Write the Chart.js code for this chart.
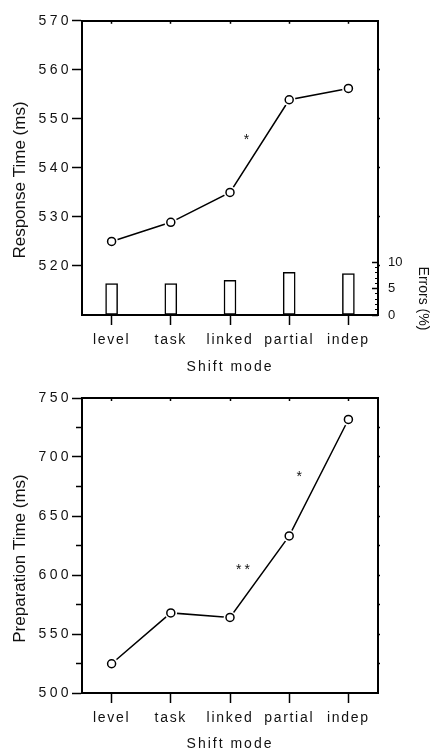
<!DOCTYPE html>
<html><head><meta charset="utf-8">
<script src="https://cdn.jsdelivr.net/npm/chart.js@4.4.1/dist/chart.umd.min.js"></script>
<style>
html,body{margin:0;padding:0;background:#fff;width:430px;height:749px;overflow:hidden}
#c1{position:absolute;left:0;top:0}
#c2{position:absolute;left:0;top:375px}
</style></head><body>
<canvas id="c1" width="430" height="375"></canvas>
<canvas id="c2" width="430" height="374"></canvas>
<script>
// ---- data ----
const categories = ['level', 'task', 'linked', 'partial', 'indep'];
const responseTime = [525.0, 528.9, 535.0, 553.9, 556.2];
const errorRate = [6.0, 6.0, 6.6, 8.1, 7.9];
const preparationTime = [524.8, 567.9, 564.0, 633.1, 731.8];

const rtTicks = [520, 530, 540, 550, 560, 570];
const rtMirrorTicks = [520, 530, 540, 550, 560];
const errTicks = [0, 5, 10];
const errMinorTicks = [0, 1, 2, 3, 4, 5, 6, 7, 8, 9, 10];
const ptTicks = [500, 550, 600, 650, 700, 750];
const ptMinorTicks = [525, 575, 625, 675, 725];
const ptMirrorTicks = [525, 550, 575, 600, 625, 650, 675, 700, 725];

const rtStars = [{x: 2.28, y: 546.3, text: '*'}];
const ptStars = [{x: 2.22, y: 607.1, text: '**'}, {x: 3.17, y: 686.0, text: '*'}];

// ---- style ----
const FONT = '"Liberation Sans", Arial, Helvetica, sans-serif';
const INK = '#111';
const tickFont = {family: FONT, size: 14};
const setTicks = arr => (s => { s.ticks = arr.map(v => ({value: v})); });

const LS = {x: '1.7px', y: '3.4px'};
const TITLE_LS = {x: '2px'};
const spacing = {
  id: 'spacing',
  beforeDraw(chart) {
    for (const s of Object.values(chart.scales)) {
      if (s.__ls) continue;
      s.__ls = true;
      const dl = s.drawLabels, dt = s.drawTitle;
      const ls = LS[s.id] || '0px', ts = TITLE_LS[s.id] || '0px';
      s.drawLabels = function (a) { const c = this.ctx; c.save(); c.letterSpacing = ls; dl.call(this, a); c.restore(); };
      s.drawTitle = function () { const c = this.ctx; c.save(); c.letterSpacing = ts; dt.call(this); c.restore(); };
    }
  }
};

function makeOverlay(titles, stars) {
  return {
    id: 'overlay',
    afterDraw(chart) {
      const c = chart.ctx;
      c.save();
      c.fillStyle = INK;
      for (const t of titles) {
        c.save();
        c.font = t.font;
        c.translate(t.x, t.y);
        c.rotate(t.rot);
        c.textAlign = 'center';
        c.textBaseline = 'middle';
        c.fillText(t.text, 0, 0);
        c.restore();
      }
      const xs = chart.scales.x, ys = chart.scales.y;
      c.font = '14px ' + FONT;
      c.letterSpacing = '3px';
      c.textAlign = 'center';
      c.textBaseline = 'alphabetic';
      for (const s of stars) {
        const m = c.measureText(s.text);
        const px = xs.getPixelForValue(s.x), py = ys.getPixelForValue(s.y);
        c.fillText(s.text, px + 1.5, py + (m.actualBoundingBoxAscent - m.actualBoundingBoxDescent) / 2);
      }
      c.restore();
    }
  };
}

function lineSets(values) {
  return [
    {type: 'line', data: values, yAxisID: 'y', showLine: false, pointRadius: 4, pointBorderWidth: 1.5,
     pointBackgroundColor: '#fff', pointBorderColor: '#000', order: 1},
    {type: 'line', data: values, yAxisID: 'y', showLine: false, pointRadius: 6.3, pointBorderWidth: 0,
     pointBackgroundColor: '#fff', pointBorderColor: '#fff', order: 2},
    {type: 'line', data: values, yAxisID: 'y', borderColor: '#000', borderWidth: 1.5, pointRadius: 0,
     tension: 0, order: 3}
  ];
}

function xScales(h, titlePad) {
  return {
    x: {type: 'category', position: 'bottom', offset: true,
        grid: {display: true, drawOnChartArea: false, drawTicks: true, tickLength: 10, tickWidth: 1.5, tickColor: '#000', offset: false},
        border: {display: true, color: '#000', width: 2},
        ticks: {font: tickFont, color: INK, padding: 7, maxRotation: 0, autoSkip: false},
        title: {display: true, text: 'Shift mode', font: {family: FONT, size: 14}, color: INK, padding: {top: 0, bottom: titlePad}},
        afterFit(s) { s.height = h; }},
    xTop: {type: 'category', position: 'top', offset: true,
        grid: {display: true, drawOnChartArea: false, drawTicks: true, tickLength: -3, tickWidth: 1.5, tickColor: '#000', offset: false},
        border: {display: true, color: '#000', width: 2},
        ticks: {display: false},
        afterFit(s) { s.height = 0; }}
  };
}

const common = {
  responsive: false, animation: false, devicePixelRatio: 1, events: [],
  plugins: {legend: {display: false}, tooltip: {enabled: false}}
};

// ---- top chart ----
new Chart(document.getElementById('c1'), {
  type: 'bar',
  data: {labels: categories, datasets: [
    ...lineSets(responseTime),
    {type: 'bar', data: errorRate, yAxisID: 'y2', backgroundColor: '#fff', borderColor: '#000',
     borderWidth: 1.5, barThickness: 12, borderSkipped: false, order: 4}
  ]},
  options: Object.assign({}, common, {
    layout: {padding: {top: 20, left: 0, right: 0, bottom: 0}, autoPadding: false},
    scales: Object.assign(xScales(60, -1), {
      y: {position: 'left', min: 510, max: 570, weight: 1, afterBuildTicks: setTicks(rtTicks),
          grid: {drawOnChartArea: false, tickLength: 10, tickWidth: 1.5, tickColor: '#000'},
          border: {display: true, color: '#000', width: 2},
          ticks: {font: tickFont, color: INK, padding: 0, callback: v => String(v)},
          afterFit(s) { s.width = 82; }},
      y2: {position: 'right', min: 0, max: 56, weight: 1, afterBuildTicks: setTicks(errMinorTicks),
          grid: {drawOnChartArea: false, tickLength: -3, tickWidth: 1, tickColor: '#000'},
          border: {display: true, color: '#000', width: 2},
          ticks: {font: {family: FONT, size: 13}, color: INK, padding: 13,
                  callback: v => errTicks.includes(v) ? String(v) : ''},
          afterFit(s) { s.width = 52; }},
      y3: {position: 'right', min: 0, max: 56, weight: 0, afterBuildTicks: setTicks(errTicks),
          grid: {drawOnChartArea: false, tickLength: -6, tickWidth: 1.5, tickColor: '#000'},
          border: {display: false}, ticks: {display: false},
          afterFit(s) { s.width = 0; }},
      y4: {position: 'right', min: 510, max: 570, weight: 0, afterBuildTicks: setTicks(rtMirrorTicks),
          grid: {drawOnChartArea: false, tickLength: 2, tickWidth: 1.5, tickColor: '#000'},
          border: {display: false}, ticks: {display: false},
          afterFit(s) { s.width = 0; }}
    })
  }),
  plugins: [spacing, makeOverlay([
    {text: 'Response Time (ms)', x: 20, y: 180, rot: -Math.PI / 2, font: '17px ' + FONT},
    {text: 'Errors (%)', x: 423, y: 298.5, rot: Math.PI / 2, font: '14px ' + FONT}
  ], rtStars)]
});

// ---- bottom chart ----
new Chart(document.getElementById('c2'), {
  type: 'bar',
  data: {labels: categories, datasets: lineSets(preparationTime)},
  options: Object.assign({}, common, {
    layout: {padding: {top: 23, left: 0, right: 0, bottom: 0}, autoPadding: false},
    scales: Object.assign(xScales(56, -4), {
      y: {position: 'left', min: 500, max: 750, weight: 1, afterBuildTicks: setTicks(ptTicks),
          grid: {drawOnChartArea: false, tickLength: 10, tickWidth: 1.5, tickColor: '#000'},
          border: {display: true, color: '#000', width: 2},
          ticks: {font: tickFont, color: INK, padding: 0, callback: v => String(v)},
          afterFit(s) { s.width = 82; }},
      yMinor: {position: 'left', min: 500, max: 750, weight: 0, afterBuildTicks: setTicks(ptMinorTicks),
          grid: {drawOnChartArea: false, tickLength: 6, tickWidth: 1.5, tickColor: '#000'},
          border: {display: false}, ticks: {display: false},
          afterFit(s) { s.width = 0; }},
      yR: {position: 'right', min: 500, max: 750, weight: 0, afterBuildTicks: setTicks(ptMirrorTicks),
          grid: {drawOnChartArea: false, tickLength: 2, tickWidth: 1.5, tickColor: '#000'},
          border: {display: true, color: '#000', width: 2}, ticks: {display: false},
          afterFit(s) { s.width = 52; }}
    })
  }),
  plugins: [spacing, makeOverlay([
    {text: 'Preparation Time (ms)', x: 20, y: 183.5, rot: -Math.PI / 2, font: '17px ' + FONT}
  ], ptStars)]
});
</script>
</body></html>
